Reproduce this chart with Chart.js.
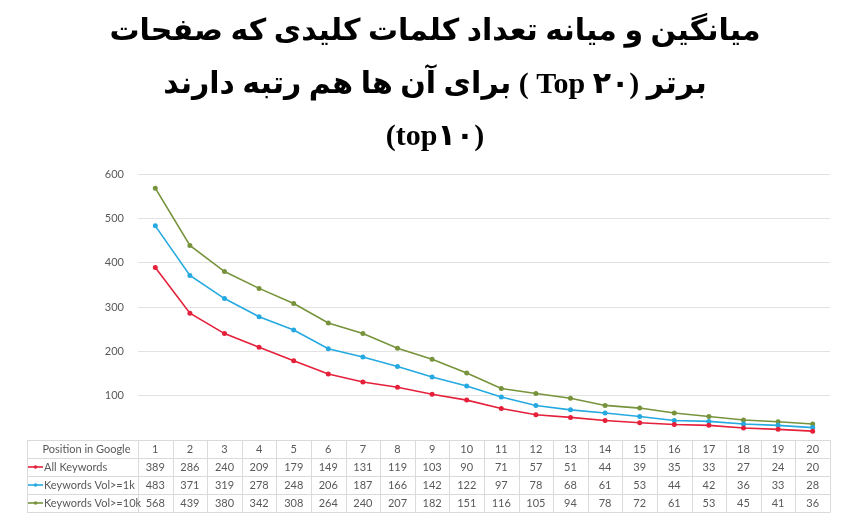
<!DOCTYPE html>
<html><head><meta charset="utf-8">
<script src="https://cdn.jsdelivr.net/npm/chart.js@4"></script>
<style>html,body{margin:0;padding:0;background:#fff}#wrap{width:848px;height:523px;position:relative}</style>
</head><body><div id="wrap"><canvas id="c" dir="rtl" style="direction:rtl"></canvas></div>
<script>
const titleLines = [
  'میانگین و میانه تعداد کلمات کلیدی که صفحات',
  'برتر (Top ۲۰ ) برای آن ها هم رتبه دارند',
  '(top۱۰)'
];
const positions = ['1','2','3','4','5','6','7','8','9','10','11','12','13','14','15','16','17','18','19','20'];
const tableHeader = 'Position in Google';
const allKeywords = [389,286,240,209,179,149,131,119,103,90,71,57,51,44,39,35,33,27,24,20];
const vol1k = [483,371,319,278,248,206,187,166,142,122,97,78,68,61,53,44,42,36,33,28];
const vol10k = [568,439,380,342,308,264,240,207,182,151,116,105,94,78,72,61,53,45,41,36];
const yTicks = [100,200,300,400,500,600];

const mk = (label, data, color) => ({
  label, data, borderColor: color, backgroundColor: color,
  borderWidth: 1.6, pointRadius: 1.7, pointHoverRadius: 2, tension: 0, fill: false
});

const tablePlugin = {
  id: 'dataTable',
  afterDraw(chart) {
    const ctx = chart.ctx, xs = chart.scales.x, area = chart.chartArea;
    const step = xs.getPixelForValue(1) - xs.getPixelForValue(0);
    const left = 27, split = area.left, right = area.right, top = area.bottom, rowH = 18;
    const ds = chart.data.datasets;
    ctx.save();
    ctx.direction = 'ltr';
    ctx.strokeStyle = '#dadada';
    ctx.lineWidth = 1;
    ctx.beginPath();
    for (let r = 0; r <= ds.length + 1; r++) {
      const y = Math.round(top + r * rowH) + 0.5;
      ctx.moveTo(left, y); ctx.lineTo(right, y);
    }
    const bottom = Math.round(top + (ds.length + 1) * rowH) + 0.5;
    const vx = [left, split];
    positions.forEach((p, i) => vx.push(xs.getPixelForValue(i) + step / 2));
    vx.forEach(x => { const X = Math.round(x) + 0.5; ctx.moveTo(X, top); ctx.lineTo(X, bottom); });
    ctx.stroke();

    ctx.font = '11px Lato, "Open Sans", sans-serif';
    ctx.fillStyle = '#595959';
    ctx.textBaseline = 'middle';
    ctx.textAlign = 'center';
    ctx.fillText(tableHeader, (left + split) / 2 + 4, top + rowH / 2);
    positions.forEach((p, i) => ctx.fillText(p, xs.getPixelForValue(i), top + rowH / 2));
    ds.forEach((d, r) => {
      const cy = top + (r + 1.5) * rowH;
      ctx.strokeStyle = d.borderColor; ctx.fillStyle = d.borderColor; ctx.lineWidth = 1.6;
      ctx.beginPath(); ctx.moveTo(left + 1, cy); ctx.lineTo(left + 16, cy); ctx.stroke();
      ctx.beginPath(); ctx.arc(left + 8.5, cy, 1.8, 0, Math.PI * 2); ctx.fill();
      ctx.fillStyle = '#595959';
      ctx.textAlign = 'left';
      ctx.fillText(d.label, left + 17, cy);
      ctx.textAlign = 'center';
      d.data.forEach((v, i) => ctx.fillText(String(v), xs.getPixelForValue(i), cy));
    });
    ctx.restore();
  }
};

new Chart(document.getElementById('c'), {
  type: 'line',
  data: {
    labels: positions,
    datasets: [
      mk('All Keywords', allKeywords, '#e5203b'),
      mk('Keywords Vol>=1k', vol1k, '#25a9e0'),
      mk('Keywords Vol>=10k', vol10k, '#77933c')
    ]
  },
  options: {
    responsive: true, maintainAspectRatio: false, animation: false,
    layout: { padding: { left: 40, right: 18, top: 0, bottom: 83 } },
    plugins: {
      legend: { display: false },
      tooltip: { enabled: false },
      title: {
        display: true, text: titleLines, color: '#000',
        font: { family: '"Liberation Serif", "DejaVu Sans", sans-serif', size: 30, weight: 'bold', lineHeight: 1.75 },
        padding: { top: 6, bottom: 10.5 }
      }
    },
    scales: {
      x: { type: 'category', display: false, offset: true },
      y: {
        min: 0, max: 600,
        afterBuildTicks: s => { s.ticks = yTicks.map(v => ({ value: v })); },
        afterFit: s => { s.width = 98; },
        border: { display: false },
        grid: { color: '#e3e3e3', drawTicks: false, lineWidth: 1 },
        ticks: { color: '#595959', padding: 14, font: { family: 'Lato, "Open Sans", sans-serif', size: 11 } }
      }
    }
  },
  plugins: [tablePlugin]
});
</script></body></html>
